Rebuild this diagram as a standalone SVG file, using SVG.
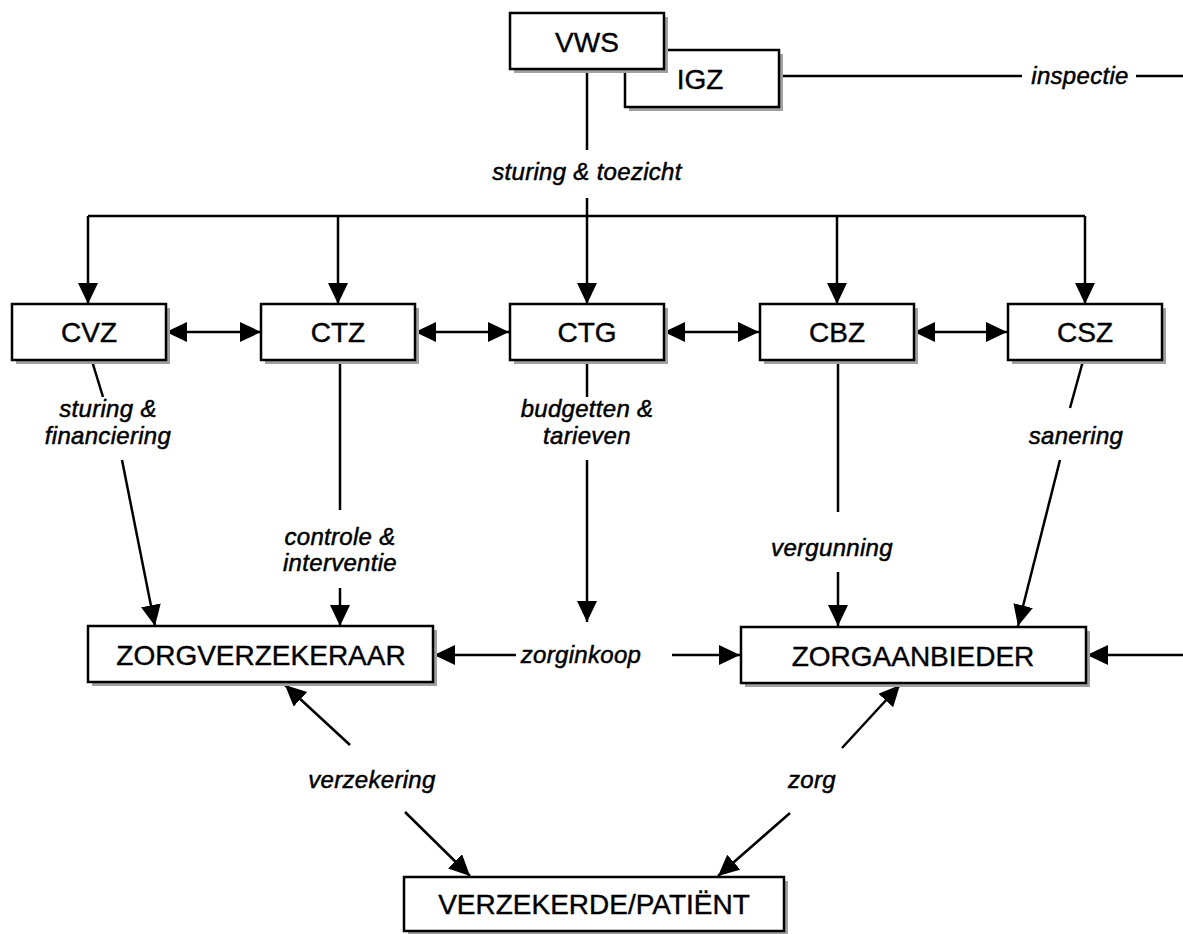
<svg xmlns="http://www.w3.org/2000/svg" width="1183" height="934" viewBox="0 0 1183 934">
<style>
.box{fill:#fff;stroke:#000;stroke-width:2.5}
.sh{fill:#a0a0a0}
.bt{font-family:"Liberation Sans",Arial,sans-serif;font-size:28px;text-anchor:middle;fill:#000;stroke:#000;stroke-width:0.4}
.lb{font-family:"Liberation Sans",Arial,sans-serif;font-size:24px;font-style:italic;text-anchor:middle;fill:#000;stroke:#000;stroke-width:0.5;letter-spacing:0.3px}
.ln{fill:none;stroke:#000;stroke-width:2.5}
.ar{marker-end:url(#ah)}
.da{marker-end:url(#ah);marker-start:url(#ahs)}
</style>
<defs>
<marker id="ah" markerUnits="userSpaceOnUse" markerWidth="22" markerHeight="22" refX="21" refY="10" orient="auto"><path d="M0,0 L21,10 L0,20 z" fill="#000"/></marker>
<marker id="ahs" markerUnits="userSpaceOnUse" markerWidth="22" markerHeight="22" refX="21" refY="10" orient="auto-start-reverse"><path d="M0,0 L21,10 L0,20 z" fill="#000"/></marker>
</defs>
<rect width="1183" height="934" fill="#fff"/>
<g id="connectors">
<line class="ln" x1="779" y1="76" x2="1022" y2="76"/>
<line class="ln" x1="1136" y1="76" x2="1183" y2="76"/>
<line class="ln" x1="587" y1="69" x2="587" y2="150"/>
<line class="ln" x1="587" y1="198" x2="587" y2="216"/>
<line class="ln" x1="88" y1="216" x2="1085" y2="216"/>
<line class="ln ar" x1="88" y1="216" x2="88" y2="304"/>
<line class="ln ar" x1="338" y1="216" x2="338" y2="304"/>
<line class="ln ar" x1="587" y1="216" x2="587" y2="304"/>
<line class="ln ar" x1="837" y1="216" x2="837" y2="304"/>
<line class="ln ar" x1="1085" y1="216" x2="1085" y2="304"/>
<line class="ln da" x1="166" y1="332" x2="261" y2="332"/>
<line class="ln da" x1="415" y1="332" x2="509" y2="332"/>
<line class="ln da" x1="664" y1="332" x2="759" y2="332"/>
<line class="ln da" x1="914" y1="332" x2="1007" y2="332"/>
<line class="ln" x1="92" y1="361" x2="103" y2="397"/>
<line class="ln ar" x1="122" y1="460" x2="155" y2="626"/>
<line class="ln" x1="340" y1="361" x2="340" y2="510"/>
<line class="ln ar" x1="340" y1="588" x2="340" y2="626"/>
<line class="ln" x1="587" y1="361" x2="587" y2="397"/>
<line class="ln ar" x1="587" y1="460" x2="587" y2="622"/>
<line class="ln" x1="838" y1="361" x2="838" y2="512"/>
<line class="ln ar" x1="838" y1="572" x2="838" y2="626"/>
<line class="ln" x1="1083" y1="361" x2="1070" y2="408"/>
<line class="ln ar" x1="1060" y1="460" x2="1018" y2="626"/>
<line class="ln ar" x1="516" y1="655" x2="434" y2="655"/>
<line class="ln ar" x1="672" y1="655" x2="740" y2="655"/>
<line class="ln ar" x1="1183" y1="655" x2="1087" y2="655"/>
<line class="ln ar" x1="350" y1="745" x2="285" y2="685"/>
<line class="ln ar" x1="405" y1="812" x2="470" y2="876"/>
<line class="ln ar" x1="842" y1="748" x2="900" y2="685"/>
<line class="ln ar" x1="790" y1="813" x2="718" y2="876"/>
</g>
<g id="labels">
<text class="lb" x="1080" y="84">inspectie</text>
<text class="lb" x="587" y="180">sturing &amp; toezicht</text>
<text class="lb" x="108" y="417">sturing &amp;</text>
<text class="lb" x="108" y="444">financiering</text>
<text class="lb" x="587" y="417">budgetten &amp;</text>
<text class="lb" x="587" y="444">tarieven</text>
<text class="lb" x="1076" y="444">sanering</text>
<text class="lb" x="340" y="545">controle &amp;</text>
<text class="lb" x="340" y="571">interventie</text>
<text class="lb" x="832" y="556">vergunning</text>
<text class="lb" x="581" y="663">zorginkoop</text>
<text class="lb" x="372" y="788">verzekering</text>
<text class="lb" x="812" y="788">zorg</text>
</g>
<g id="IGZ"><rect class="sh" x="629" y="54" width="154" height="57"/><rect class="box" x="625" y="50" width="154" height="57"/><text class="bt" x="700" y="89">IGZ</text></g>
<g id="VWS"><rect class="sh" x="514" y="17" width="154" height="56"/><rect class="box" x="510" y="13" width="154" height="56"/><text class="bt" x="587" y="52">VWS</text></g>
<g id="CVZ"><rect class="sh" x="16" y="308" width="154" height="56"/><rect class="box" x="12" y="304" width="154" height="56"/><text class="bt" x="89" y="342">CVZ</text></g>
<g id="CTZ"><rect class="sh" x="265" y="308" width="154" height="56"/><rect class="box" x="261" y="304" width="154" height="56"/><text class="bt" x="338" y="342">CTZ</text></g>
<g id="CTG"><rect class="sh" x="514" y="308" width="154" height="56"/><rect class="box" x="510" y="304" width="154" height="56"/><text class="bt" x="587" y="342">CTG</text></g>
<g id="CBZ"><rect class="sh" x="764" y="308" width="154" height="56"/><rect class="box" x="760" y="304" width="154" height="56"/><text class="bt" x="837" y="342">CBZ</text></g>
<g id="CSZ"><rect class="sh" x="1012" y="308" width="154" height="56"/><rect class="box" x="1008" y="304" width="154" height="56"/><text class="bt" x="1085" y="342">CSZ</text></g>
<g id="ZORGVERZEKERAAR"><rect class="sh" x="92" y="630" width="345" height="56"/><rect class="box" x="88" y="626" width="345" height="56"/><text class="bt" x="261" y="665">ZORGVERZEKERAAR</text></g>
<g id="ZORGAANBIEDER"><rect class="sh" x="745" y="631" width="345" height="56"/><rect class="box" x="741" y="627" width="345" height="56"/><text class="bt" x="913" y="666">ZORGAANBIEDER</text></g>
<g id="VERZEKERDE"><rect class="sh" x="408" y="881" width="380" height="54"/><rect class="box" x="404" y="877" width="380" height="54"/><text class="bt" x="594" y="914">VERZEKERDE/PATIËNT</text></g>
</svg>
